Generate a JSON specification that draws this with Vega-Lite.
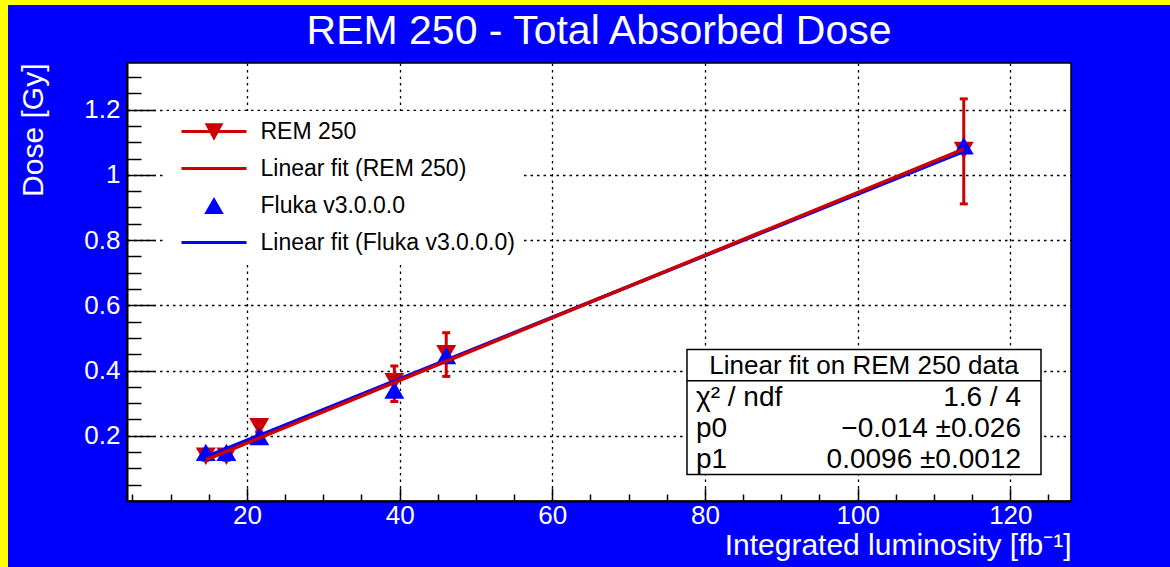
{
  "$schema": "https://vega.github.io/schema/vega-lite/v6.json",
  "background": "#0000ff",
  "padding": 0,
  "spacing": 0,
  "align": "none",
  "bounds": "full",
  "config": {
    "font": "Liberation Sans",
    "view": {"stroke": null}
  },
  "datasets": {
    "rem": [
      {"lumi": 14.6, "dose": 0.137, "lo": 0.125, "hi": 0.149},
      {"lumi": 17.3, "dose": 0.137, "lo": 0.125, "hi": 0.149},
      {"lumi": 21.6, "dose": 0.228, "lo": 0.212, "hi": 0.244},
      {"lumi": 39.3, "dose": 0.366, "lo": 0.305, "hi": 0.414},
      {"lumi": 46.1, "dose": 0.452, "lo": 0.382, "hi": 0.516},
      {"lumi": 113.9, "dose": 1.075, "lo": 0.911, "hi": 1.233}
    ],
    "fluka": [
      {"lumi": 14.6, "dose": 0.149},
      {"lumi": 17.3, "dose": 0.149},
      {"lumi": 21.6, "dose": 0.198},
      {"lumi": 39.3, "dose": 0.340},
      {"lumi": 46.1, "dose": 0.446},
      {"lumi": 113.9, "dose": 1.089}
    ],
    "remfit": [
      {"lumi": 14.6, "dose": 0.126},
      {"lumi": 113.9, "dose": 1.079}
    ],
    "flukafit": [
      {"lumi": 14.6, "dose": 0.135},
      {"lumi": 113.9, "dose": 1.072}
    ],
    "legend": [
      {"series": "REM 250"},
      {"series": "Linear fit (REM 250)"},
      {"series": "Fluka v3.0.0.0"},
      {"series": "Linear fit (Fluka v3.0.0.0)"}
    ],
    "frame": [
      {"v": 0}
    ],
    "fitbox": [
      {"title": "Linear fit on REM 250 data", "names": "χ² / ndf\np0\np1", "values": "1.6 / 4\n−0.014 ±0.026\n0.0096 ±0.0012"}
    ]
  },
  "hconcat": [
    {
      "width": 8, "height": 567,
      "view": {"fill": "#ffff00", "stroke": null},
      "data": {"values": []},
      "mark": "rect",
      "encoding": {}
    },
    {
      "spacing": 0,
      "align": "none",
      "bounds": "full",
      "vconcat": [
        {
          "width": 1044, "height": 5,
          "view": {"fill": "#ffff00", "stroke": null},
          "data": {"values": []},
          "mark": "rect",
          "encoding": {}
        },
        {
          "width": 944,
          "height": 438,
          "view": {"fill": "#ffffff", "stroke": "#000000", "strokeWidth": 1.5},
          "title": {
            "text": ["", "REM 250 - Total Absorbed Dose"],
            "lineHeight": 5,
            "fontSize": 41,
            "fontWeight": "normal",
            "color": "#ffffff",
            "anchor": "middle",
            "offset": 10
          },
          "resolve": {"axis": {"x": "independent", "y": "independent"}},
          "layer": [
            {
              "data": {"name": "rem"},
              "mark": {"type": "rule", "color": "#cc0000", "strokeWidth": 3},
              "encoding": {
                "x": {
                  "field": "lumi", "type": "quantitative",
                  "scale": {"domain": [4.28, 127.95], "nice": false, "zero": false},
                  "axis": {
                    "orient": "bottom",
                    "values": [20, 40, 60, 80, 100, 120],
                    "format": "d",
                    "title": "Integrated luminosity [fb⁻¹]",
                    "titleAnchor": "end",
                    "titleFontSize": 30,
                    "titleFontWeight": "normal",
                    "titleColor": "#ffffff",
                    "titlePadding": 2,
                    "labelFontSize": 26,
                    "labelColor": "#ffffff",
                    "labelPadding": 1,
                    "labelFlush": false,
                    "labelOverlap": false,
                    "ticks": false,
                    "grid": true,
                    "gridColor": "#000000",
                    "gridDash": [2.5, 4],
                    "gridWidth": 1.3,
                    "domainColor": "#000000",
                    "domainWidth": 2
                  }
                },
                "y": {
                  "field": "lo", "type": "quantitative",
                  "scale": {"domain": [0, 1.343], "nice": false, "zero": false},
                  "axis": {
                    "orient": "left",
                    "values": [0.2, 0.4, 0.6, 0.8, 1, 1.2],
                    "format": "~g",
                    "title": ["", "Dose [Gy]"],
                    "titleLineHeight": 10,
                    "titleAnchor": "end",
                    "titleFontSize": 30,
                    "titleFontWeight": "normal",
                    "titleColor": "#ffffff",
                    "titlePadding": 35,
                    "labelFontSize": 26,
                    "labelColor": "#ffffff",
                    "labelPadding": 7,
                    "labelOverlap": false,
                    "labelFlush": false,
                    "ticks": false,
                    "grid": true,
                    "gridColor": "#000000",
                    "gridDash": [2.5, 4],
                    "gridWidth": 1.3,
                    "domainColor": "#000000",
                    "domainWidth": 2
                  }
                },
                "y2": {"field": "hi"}
              }
            },
            {
              "data": {"name": "rem"},
              "transform": [{"fold": ["lo", "hi"], "as": ["end", "edge"]}],
              "mark": {"type": "tick", "orient": "horizontal", "color": "#cc0000", "size": 8, "thickness": 3, "opacity": 1},
              "encoding": {
                "x": {
                  "field": "lumi", "type": "quantitative",
                  "axis": {
                    "orient": "bottom", "values": [20, 40, 60, 80, 100, 120],
                    "labels": false, "grid": false, "domain": false, "title": null,
                    "ticks": true, "tickSize": -13, "tickColor": "#000000", "tickWidth": 1.5
                  }
                },
                "y": {
                  "field": "edge", "type": "quantitative",
                  "axis": {
                    "orient": "left", "values": [0.2, 0.4, 0.6, 0.8, 1, 1.2],
                    "labels": false, "grid": false, "domain": false, "title": null,
                    "ticks": true, "tickSize": -27, "tickColor": "#000000", "tickWidth": 1.5
                  }
                }
              }
            },
            {
              "data": {"name": "rem"},
              "mark": {"type": "point", "shape": "M-1,-0.87L1,-0.87L0,0.87Z", "filled": true, "size": 400, "color": "#cc0000", "opacity": 1},
              "encoding": {
                "x": {
                  "field": "lumi", "type": "quantitative",
                  "axis": {
                    "orient": "bottom",
                    "values": [5, 10, 15, 25, 30, 35, 45, 50, 55, 65, 70, 75, 85, 90, 95, 105, 110, 115, 125],
                    "labels": false, "grid": false, "domain": false, "title": null,
                    "ticks": true, "tickSize": -7, "tickColor": "#000000", "tickWidth": 1.5
                  }
                },
                "y": {
                  "field": "dose", "type": "quantitative",
                  "axis": {
                    "orient": "left",
                    "values": [0.05, 0.1, 0.15, 0.25, 0.3, 0.35, 0.45, 0.5, 0.55, 0.65, 0.7, 0.75, 0.85, 0.9, 0.95, 1.05, 1.1, 1.15, 1.25, 1.3],
                    "labels": false, "grid": false, "domain": false, "title": null,
                    "ticks": true, "tickSize": -14, "tickColor": "#000000", "tickWidth": 1.5
                  }
                }
              }
            },
            {
              "data": {"name": "fluka"},
              "mark": {"type": "point", "shape": "M-1,0.87L1,0.87L0,-0.87Z", "filled": true, "size": 400, "color": "#0000ff", "opacity": 1},
              "encoding": {
                "x": {"field": "lumi", "type": "quantitative", "axis": null},
                "y": {"field": "dose", "type": "quantitative", "axis": null}
              }
            },
            {
              "data": {"name": "flukafit"},
              "mark": {"type": "line", "color": "#0000ff", "strokeWidth": 3.5},
              "encoding": {
                "x": {"field": "lumi", "type": "quantitative", "axis": null},
                "y": {"field": "dose", "type": "quantitative", "axis": null}
              }
            },
            {
              "data": {"name": "remfit"},
              "mark": {"type": "line", "color": "#cc0000", "strokeWidth": 3.5},
              "encoding": {
                "x": {"field": "lumi", "type": "quantitative", "axis": null},
                "y": {"field": "dose", "type": "quantitative", "axis": null}
              }
            },
            {
              "data": {"name": "fitbox"},
              "mark": {"type": "rect", "fill": "#ffffff", "stroke": "#000000", "strokeWidth": 1.5},
              "encoding": {
                "x": {"datum": 77.64, "type": "quantitative", "axis": null},
                "x2": {"datum": 124.02},
                "y": {"datum": 0.4642, "type": "quantitative", "axis": null},
                "y2": {"datum": 0.0815}
              }
            },
            {
              "data": {"name": "fitbox"},
              "mark": {"type": "rule", "color": "#000000", "strokeWidth": 1.5},
              "encoding": {
                "x": {"datum": 77.64, "type": "quantitative", "axis": null},
                "x2": {"datum": 124.02},
                "y": {"datum": 0.3684, "type": "quantitative", "axis": null}
              }
            },
            {
              "data": {"name": "fitbox"},
              "mark": {"type": "text", "align": "center", "baseline": "alphabetic", "fontSize": 26, "color": "#000000"},
              "encoding": {
                "x": {"datum": 100.83, "type": "quantitative", "axis": null},
                "y": {"datum": 0.3886, "type": "quantitative", "axis": null},
                "text": {"field": "title"}
              }
            },
            {
              "data": {"name": "fitbox"},
              "mark": {"type": "text", "align": "left", "baseline": "alphabetic", "fontSize": 28, "lineHeight": 31, "lineBreak": "\n", "color": "#000000"},
              "encoding": {
                "x": {"datum": 78.82, "type": "quantitative", "axis": null},
                "y": {"datum": 0.2928, "type": "quantitative", "axis": null},
                "text": {"field": "names"}
              }
            },
            {
              "data": {"name": "fitbox"},
              "mark": {"type": "text", "align": "right", "baseline": "alphabetic", "fontSize": 28, "lineHeight": 31, "lineBreak": "\n", "color": "#000000"},
              "encoding": {
                "x": {"datum": 121.4, "type": "quantitative", "axis": null},
                "y": {"datum": 0.2928, "type": "quantitative", "axis": null},
                "text": {"field": "values"}
              }
            },
            {
              "data": {"name": "frame"},
              "mark": {"type": "point", "clip": true, "opacity": 1},
              "encoding": {
                "x": {"datum": -60, "type": "quantitative", "axis": null},
                "y": {"datum": -1, "type": "quantitative", "axis": null},
                "fill": {
                  "field": "v", "type": "quantitative",
                  "scale": {"domain": [0, 1], "range": ["#ffff00", "#ffff00"]},
                  "legend": {
                    "title": null, "orient": "none", "legendX": 0, "legendY": 0,
                    "direction": "horizontal", "gradientLength": 130, "gradientThickness": 5,
                    "gradientStrokeWidth": 0, "padding": 0, "labelExpr": "''",
                    "labelFontSize": 1, "labelOffset": 0, "fillColor": null, "strokeColor": null
                  }
                }
              }
            },
            {
              "data": {"name": "legend"},
              "mark": {"type": "point", "filled": true, "clip": true, "opacity": 1},
              "encoding": {
                "x": {"datum": -60, "type": "quantitative", "axis": null},
                "y": {"datum": -1, "type": "quantitative", "axis": null},
                "color": {
                  "field": "series", "type": "nominal",
                  "scale": {
                    "domain": ["REM 250", "Linear fit (REM 250)", "Fluka v3.0.0.0", "Linear fit (Fluka v3.0.0.0)"],
                    "range": ["#cc0000", "#cc0000", "#0000ff", "#0000ff"]
                  },
                  "legend": {
                    "title": null, "orient": "none", "legendX": 163, "legendY": 111,
                    "padding": 9, "fillColor": "#ffffff", "strokeColor": null,
                    "symbolSize": 400, "symbolStrokeWidth": 0, "symbolOpacity": 1,
                    "symbolOffset": 30.5, "labelOffset": 35,
                    "labelFontSize": 23, "labelColor": "#000000", "labelLimit": 0,
                    "rowPadding": 13
                  }
                },
                "shape": {
                  "field": "series", "type": "nominal",
                  "scale": {
                    "domain": ["REM 250", "Linear fit (REM 250)", "Fluka v3.0.0.0", "Linear fit (Fluka v3.0.0.0)"],
                    "range": [
                      "M-3.25,-0.15H3.25V0.15H-3.25ZM-0.94,-0.83H0.94L0,0.93Z",
                      "M-3.25,-0.15H3.25V0.15H-3.25Z",
                      "M-0.98,0.85H0.98L0,-0.85Z",
                      "M-3.25,-0.15H3.25V0.15H-3.25Z"
                    ]
                  },
                  "legend": {
                    "title": null, "orient": "none", "legendX": 163, "legendY": 111,
                    "padding": 9, "fillColor": "#ffffff", "strokeColor": null,
                    "symbolSize": 400, "symbolStrokeWidth": 0, "symbolOpacity": 1,
                    "symbolOffset": 30.5, "labelOffset": 35,
                    "labelFontSize": 23, "labelColor": "#000000", "labelLimit": 0,
                    "rowPadding": 13
                  }
                }
              }
            }
          ]
        }
      ]
    }
  ]
}
